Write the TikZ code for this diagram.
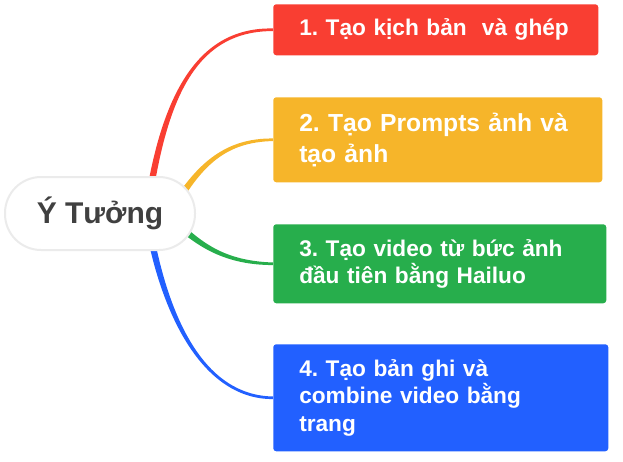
\documentclass[tikz,border=0pt]{standalone}
\usepackage{fontspec}
\setmainfont{Liberation Sans}
\usetikzlibrary{calc,backgrounds}

\definecolor{redA}{RGB}{249,62,50}
\definecolor{yellowA}{RGB}{246,181,42}
\definecolor{greenA}{RGB}{39,174,76}
\definecolor{blueA}{RGB}{34,96,255}
\definecolor{textA}{RGB}{64,64,64}

\tikzset{
	topic/.style={fill=#1, rounded corners=2.25pt, text=white, font=\fontsize{17}{20.6}\selectfont\bfseries, align=left, inner xsep=19.5pt, inner ysep=0pt, anchor=north west},
	idea/.style={draw=black!8, line width=1.5pt, fill=white, rounded corners=27pt, minimum width=142.5pt, minimum height=54.75pt, text=textA, font=\fontsize{22.5}{27}\selectfont\bfseries},
}

\begin{document}
\frenchspacing
\begin{tikzpicture}[x=0.75pt,y=0.75pt,yscale=-1,xscale=1]
	\useasboundingbox (0,0) rectangle (623,461);
	
	% Central idea
	\node [idea] (idea) at (100,213.5) {Ý Tưởng};
	
	% Topics
	\node [topic=redA, text width=204.75pt, minimum height=38.25pt] (b1) at (273,4) {1. Tạo kịch bản\ \ và ghép};
	\node [topic=yellowA, text width=207.75pt, minimum height=63.75pt, font=\fontsize{18.5}{23.25}\selectfont\bfseries] (b2) at (273,97) {2. Tạo Prompts ảnh và\\tạo ảnh};
	\node [topic=greenA, text width=210.75pt, minimum height=59.25pt] (b3) at (273,224) {3. Tạo video từ bức ảnh\\đầu tiên bằng Hailuo};
	\node [topic=blueA, text width=212.25pt, minimum height=80.25pt] (b4) at (273,344) {4. Tạo bản ghi và\\combine video bằng\\trang};
	
	% Branch roots, hidden under the idea
	\coordinate (s1) at ($(idea.center)+(48,-8.5)$);
	\coordinate (s2) at ($(idea.center)+(75,-8.5)$);
	\coordinate (s3) at ($(idea.center)+(75,8.5)$);
	\coordinate (s4) at ($(idea.center)+(48,8.5)$);
	
	\begin{scope}[on background layer]
		% Branch 1
		\fill [redA] ($(s1)+(-3.4,0)$) .. controls (162,90) and (200,27) .. ($(b1.west)+(0,-1.3)$) -- ($(b1.west)+(0,1.3)$) .. controls (200,31) and (168,90) .. ($(s1)+(3.4,0)$) -- cycle;
		% Branch 2
		\fill [yellowA] ($(s2)+(-2.9,-1.9)$) .. controls (197.8,163.5) and (225,138) .. ($(b2.west)+(0,-1.3)$) -- ($(b2.west)+(0,1.3)$) .. controls (225,142) and (202.2,166.5) .. ($(s2)+(2.9,1.9)$) -- cycle;
		% Branch 3
		\fill [greenA] ($(s3)+(2.4,-2.6)$) .. controls (201.8,243) and (225,261) .. ($(b3.west)+(0,-1.3)$) -- ($(b3.west)+(0,1.3)$) .. controls (225,265) and (198.2,247) .. ($(s3)+(-2.4,2.6)$) -- cycle;
		% Branch 4
		\fill [blueA] ($(s4)+(-3.4,0)$) .. controls (162,320) and (205,399.5) .. ($(b4.west)+(0,1.3)$) -- ($(b4.west)+(0,-1.3)$) .. controls (205,395.5) and (168,320) .. ($(s4)+(3.4,0)$) -- cycle;
	\end{scope}
\end{tikzpicture}
\end{document}
